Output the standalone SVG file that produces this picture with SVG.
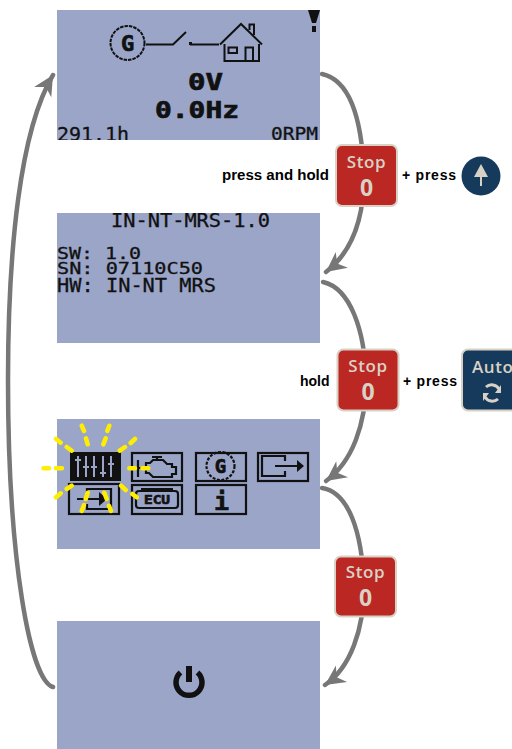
<svg xmlns="http://www.w3.org/2000/svg" width="512" height="749" viewBox="0 0 512 749">
<style>
.screen{fill:#9aa5c8}
.lcd{font-family:"DejaVu Sans Mono","Liberation Mono",monospace;fill:#111;stroke:#111;stroke-width:.3}
.b{font-weight:bold;stroke-width:.7}
.ln{fill:none;stroke:#111;stroke-width:2.200}
.thin{fill:none;stroke:#111;stroke-width:2}
.conn{fill:none;stroke:#777;stroke-width:4.500;stroke-linecap:round}
.btn{stroke:#d8d2c6;stroke-width:2}
.red{fill:#bb2722}
.blue{fill:#163a5c}
.bt{font-family:"Open Sans","Noto Sans",sans-serif;fill:#d8d2c6;text-anchor:middle;font-weight:600}
.lab{font-family:"Liberation Sans",Arial,sans-serif;font-weight:bold;font-size:14px;fill:#000}
.ray{stroke:#ffee00;stroke-width:4.500;stroke-linecap:round;fill:none}
.sl{stroke:#9aa5c8;stroke-width:2;fill:none}
</style>
<defs>
<marker id="ah" markerUnits="userSpaceOnUse" markerWidth="26" markerHeight="26" viewBox="-22 -13 26 26" refX="0" refY="0" orient="auto">
<path d="M0,0 L-20,-10 L-14,0 L-20,10 Z" fill="#777"/>
</marker>
<clipPath id="c1"><rect x="57" y="10" width="263" height="130"/></clipPath>
<clipPath id="c2"><rect x="57" y="213" width="263" height="130"/></clipPath>
</defs>

<g id="connectors">
<path class="conn" marker-end="url(#ah)" d="M322 74 C350 80 362 120 364 175 C364 220 352 252 326 272"/>
<path class="conn" marker-end="url(#ah)" d="M323 282 C350 288 365 330 366 380 C366 425 352 462 326 481"/>
<path class="conn" marker-end="url(#ah)" d="M322 488 C348 492 362 530 364 586 C364 630 350 668 325 685"/>
<path class="conn" marker-end="url(#ah)" d="M53 687 C30 680 8 560 8 380 C8 250 20 130 53 75"/>
</g>

<g id="screen-status">
<rect class="screen" x="57" y="10" width="263" height="130"/>
<g clip-path="url(#c1)">
<circle class="thin" cx="127.500" cy="43" r="17" stroke-dasharray="3.500 1"/>
<text class="lcd b" x="127.500" y="51" font-size="22" text-anchor="middle">G</text>
<path class="thin" d="M146 44.500H173L186 32M190 44.500H219"/>
<rect x="189" y="42" width="3" height="3" fill="#111"/>
<path class="thin" d="M220 44.500L241 24L262 44.500M224.500 44V61H259V44M228.500 47.500H237V53H228.500ZM245.500 61V47.500H253V61M249.500 30V24.500H254V35"/>
<path d="M308 10H320L316 23H312ZM312 26H316V32H312Z" fill="#111"/>
<text class="lcd b" x="188" y="90" font-size="23" textLength="35" lengthAdjust="spacingAndGlyphs">0V</text>
<text class="lcd b" x="155" y="118" font-size="23" textLength="84" lengthAdjust="spacingAndGlyphs">0.0Hz</text>
<text class="lcd" x="57" y="141" font-size="19" textLength="72" lengthAdjust="spacingAndGlyphs">291.1h</text>
<text class="lcd" x="271" y="140" font-size="18" textLength="47" lengthAdjust="spacingAndGlyphs">0RPM</text>
</g>
</g>

<g id="screen-info">
<rect class="screen" x="57" y="213" width="263" height="130"/>
<g clip-path="url(#c2)">
<text class="lcd" x="111" y="227" font-size="19" textLength="159" lengthAdjust="spacingAndGlyphs">IN-NT-MRS-1.0</text>
<text class="lcd" x="57" y="258.500" font-size="16" textLength="84" lengthAdjust="spacingAndGlyphs" xml:space="preserve">SW: 1.0</text>
<text class="lcd" x="57" y="273.500" font-size="16" textLength="146" lengthAdjust="spacingAndGlyphs" xml:space="preserve">SN: 07110C50</text>
<text class="lcd" x="57" y="292" font-size="19" textLength="159" lengthAdjust="spacingAndGlyphs" xml:space="preserve">HW: IN-NT MRS</text>
</g>
</g>

<g id="screen-menu">
<rect class="screen" x="57" y="419" width="263" height="130"/>
<g id="icon-settings">
<rect x="70" y="452" width="51" height="29" fill="#111"/>
<path class="sl" d="M78 456V477M86 456V477M94 456V477M103 456V477M111 456V477"/>
<path stroke="#9aa5c8" stroke-width="2" d="M75 460H81M83 467H89M91 467H97M100 473H106M108 464H114"/>
</g>
<g id="icon-engine">
<rect class="ln" x="132" y="453" width="50" height="28"/>
<path class="ln" d="M138 460V477M138 468H146M146 463H150L153 460H163L167 464H172V467H176V474H172V477H153L149 473H146Z"/>
<path class="ln" d="M152 457H162M157 457V460"/>
</g>
<g id="icon-generator">
<rect class="ln" x="196" y="453" width="50" height="28"/>
<circle class="ln" cx="220.500" cy="466" r="14" stroke-dasharray="3 1.500"/>
<text class="lcd b" x="220.500" y="473" font-size="19" text-anchor="middle">G</text>
</g>
<g id="icon-output">
<rect class="ln" x="258" y="453" width="50" height="28"/>
<path class="ln" d="M285 471V476H262V456H285V461M275 466H298"/>
<path d="M297 460L304 466L297 472Z" fill="#111"/>
</g>
<g id="icon-input">
<rect class="ln" x="69" y="484" width="50" height="30"/>
<path class="ln" d="M87 493V489H111V509H87V504M77 499H100"/>
<path d="M99 492L107 499L99 506Z" fill="#111"/>
</g>
<g id="icon-ecu">
<rect class="ln" x="132" y="485" width="50" height="29"/>
<path class="ln" d="M141 489H173M139 491H175Q178 491 178 494V505Q178 508 175 508H139Q136 508 136 505V494Q136 491 139 491Z"/>
<text class="lcd b" x="157" y="504" font-size="13" text-anchor="middle" textLength="26" lengthAdjust="spacingAndGlyphs">ECU</text>
</g>
<g id="icon-info">
<rect class="ln" x="196" y="485" width="50" height="29"/>
<text class="lcd b" x="221.500" y="510" font-size="25" text-anchor="middle">i</text>
</g>
<g id="rays">
<path class="ray" d="M43.500 468.300H49M56 468.300H62M56 439L60.700 442.700M66.700 447L71.700 450.700M81.700 425.700L84 431M86 438.300L87.700 444.300M109.300 425.700L107.300 431M105.700 438.300L103.300 444.300M135 439L130.700 443M125 447L119.700 450.700M129.300 468.300H135M142.300 468.300H148.300M71.700 485.700L66.700 489M60.700 493.300L56 497.300M87.700 492.700L85.700 499M84 505L81.700 511M104.300 492.700L106.700 499M109 505.700L111 511M121 485.700L125.700 490M132.300 494L136.700 497.300"/>
</g>
</g>

<g id="screen-off">
<rect class="screen" x="57" y="621" width="263" height="128"/>
<path d="M180.500 672.500A13 13 0 1 0 197.500 672.500" fill="none" stroke="#111" stroke-width="5.500"/>
<rect x="186" y="666" width="6" height="16" fill="#111"/>
</g>

<g id="button-stop-1">
<rect class="btn red" x="336" y="145" width="61" height="61" rx="6"/>
<text class="bt" x="366.500" y="168" font-size="17" letter-spacing=".6">Stop</text>
<text class="bt" style="font-weight:bold" x="366.500" y="196" font-size="23">0</text>
</g>
<g id="button-stop-2">
<rect class="btn red" x="337.500" y="349.500" width="61" height="61" rx="6"/>
<text class="bt" x="368" y="372" font-size="17" letter-spacing=".6">Stop</text>
<text class="bt" style="font-weight:bold" x="368" y="400" font-size="23">0</text>
</g>
<g id="button-stop-3">
<rect class="btn red" x="335" y="556.500" width="61" height="60" rx="6"/>
<text class="bt" x="365.500" y="578" font-size="17" letter-spacing=".6">Stop</text>
<text class="bt" style="font-weight:bold" x="365.500" y="606" font-size="23">0</text>
</g>
<g id="button-up">
<circle class="blue" cx="481" cy="176" r="19.500"/>
<path d="M481 164L488 177H482V186H480V177H474Z" fill="#d8d2c6"/>
</g>
<g id="button-auto">
<rect class="btn blue" x="462" y="349.500" width="60" height="61" rx="6"/>
<text class="bt" x="472" y="373" font-size="17" letter-spacing=".6" style="text-anchor:start">Auto</text>
<path d="M486 387A8.500 8.500 0 0 1 499 389M498 399A8.500 8.500 0 0 1 485 397" fill="none" stroke="#d8d2c6" stroke-width="3"/>
<path d="M501 385V393H495ZM483 401V393H489Z" fill="#d8d2c6"/>
</g>
<g id="labels">
<text class="lab" x="222" y="180" textLength="107" lengthAdjust="spacingAndGlyphs">press and hold</text>
<text class="lab" x="402" y="180" textLength="54">+ press</text>
<text class="lab" x="300" y="386">hold</text>
<text class="lab" x="403" y="386" textLength="54">+ press</text>
</g>
</svg>
